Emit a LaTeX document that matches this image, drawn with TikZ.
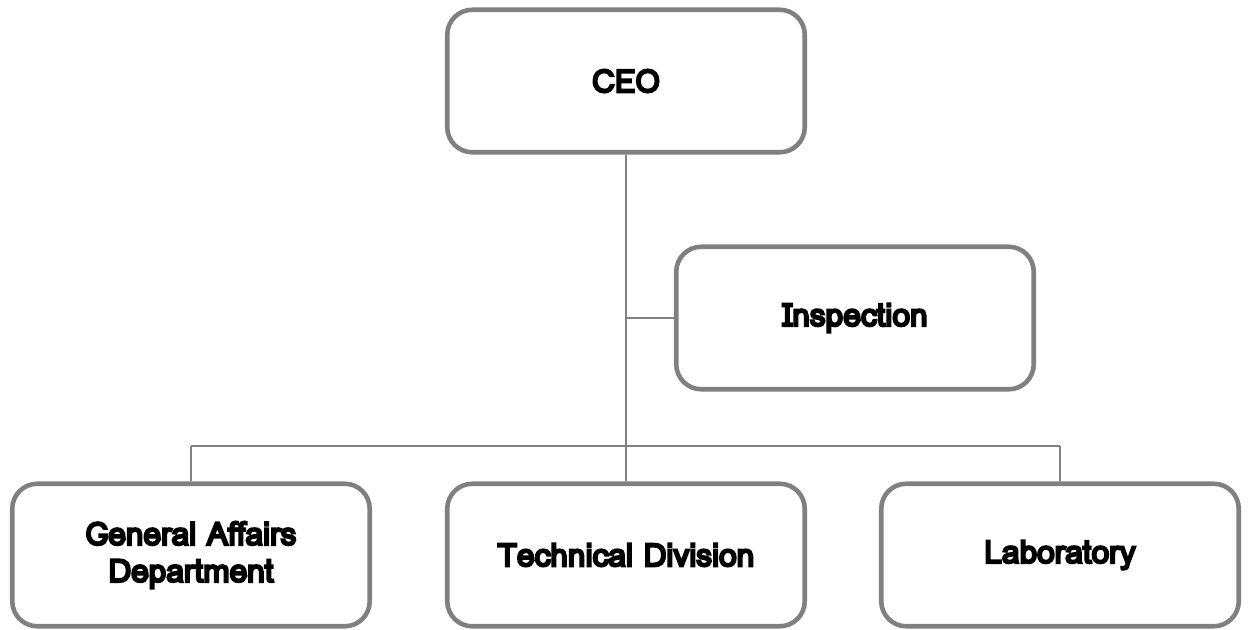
\documentclass[tikz,border=0pt]{standalone}
\usepackage{fontspec}
\newfontfamily\orgfont[Script=Thai,FakeBold=7]{Loma}
\usepackage{tikz}
\usetikzlibrary{positioning, calc}

\begin{document}
\begin{tikzpicture}[
		unit/.style={rectangle, draw=boxgray, line width=2.6pt, rounded corners=0.5cm, fill=white,
			minimum width=7.15cm, minimum height=2.85cm, align=center,
			font=\orgfont\fontsize{18}{21}\selectfont},
		link/.style={draw=boxgray, line width=1.6pt},
		]
		\definecolor{boxgray}{RGB}{128,128,128}
		\useasboundingbox (0,0) rectangle (25.02,-12.58);
		
		\node[unit] (ceo) at (12.52, -1.62) {CEO};
		\node[unit] (insp) at (17.1, -6.36) {Inspection};
		\coordinate (hub) at (12.52, -8.92);
		
		\foreach \name/\xpos/\txt in {ga/3.82/{General Affairs\\Department},tech/12.52/{Technical Division},lab/21.2/{Laboratory}}
			\node[unit] (\name) at (\xpos, -11.1) {\txt};
		
		\draw[link] (ceo.south) -- (hub);
		\draw[link] (insp.west) -- (insp.west -| ceo.south);
		\draw[link] (ga.north |- hub) -- (lab.north |- hub);
		\foreach \name in {ga,tech,lab} {
			\draw[link] (\name.north |- hub) -- (\name.north);
		}
\end{tikzpicture}
\end{document}
